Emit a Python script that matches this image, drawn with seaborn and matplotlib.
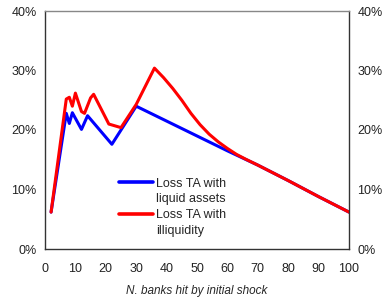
import numpy as np
import pandas as pd
import seaborn as sns
import matplotlib.pyplot as plt
from matplotlib.lines import Line2D
from matplotlib.ticker import PercentFormatter, MultipleLocator

# Data (breakpoints, % of total assets)
banks_liquid = [2, 7, 8, 9, 12, 14, 22, 30, 40, 50, 60, 70, 80, 90, 100]
loss_liquid = [6.2, 22.8, 21.1, 22.9, 20.1, 22.4, 17.6, 24.0, 21.5, 19.0, 16.5, 14.1, 11.5, 8.8, 6.2]

banks_illiquid = [2, 7, 8, 9, 10, 12, 13, 15, 16, 21, 25, 30, 36, 39, 42, 45, 48, 51, 54, 57, 60, 63, 66, 70, 80, 90, 100]
loss_illiquid = [6.2, 25.2, 25.5, 24.0, 26.2, 23.1, 22.8, 25.4, 26.0, 21.0, 20.4, 24.3, 30.4,
                 28.8, 27.0, 25.0, 22.8, 20.9, 19.3, 18.0, 16.9, 15.9, 15.1, 14.1, 11.5, 8.8, 6.2]

series_names = ["Loss TA with liquid assets", "Loss TA with illiquidity"]
legend_rows = ["Loss TA with", "liquid assets", "Loss TA with", "illiquidity"]
colors = ["#0000ff", "#ff0000"]

df = pd.concat([
    pd.DataFrame({"banks": banks_liquid, "loss": loss_liquid, "series": series_names[0]}),
    pd.DataFrame({"banks": banks_illiquid, "loss": loss_illiquid, "series": series_names[1]}),
])

sns.set_style("white")
plt.rcParams['font.family'] = ['Liberation Sans', 'DejaVu Sans']

fig, ax = plt.subplots(figsize=(3.84, 3.05), dpi=100)
fig.subplots_adjust(left=45/384, right=349/384, top=1-11/305, bottom=1-249/305)

sns.lineplot(data=df, x="banks", y="loss", hue="series", sort=False,
             palette=colors, linewidth=2.2, legend=False, ax=ax)

ax.set_xlim(0, 100)
ax.set_ylim(0, 40)
ax.xaxis.set_major_locator(MultipleLocator(10))
ax.xaxis.set_minor_locator(MultipleLocator(5))
ax.yaxis.set_major_locator(MultipleLocator(10))
ax.yaxis.set_major_formatter(PercentFormatter(decimals=0))
ax.tick_params(axis="x", which="both", direction="in", length=3, width=0.8, labelsize=9, pad=10, colors="#222222")
ax.tick_params(axis="y", length=0, labelsize=9, pad=6, colors="#222222", labelright=True)
ax.set_xlabel("N. banks hit by initial shock", fontsize=8.5, style="italic", labelpad=7)
ax.set_ylabel("")

for side in ["left", "bottom", "right"]:
    ax.spines[side].set_color("#333333")
    ax.spines[side].set_linewidth(1.0)
ax.spines["top"].set_color("#888888")
ax.spines["top"].set_linewidth(1.0)

# legend: handle sits beside the first line of each two-line label
blank = Line2D([], [], color="none")
handles = [Line2D([], [], color=colors[0], lw=2.6), blank,
           Line2D([], [], color=colors[1], lw=2.6), blank]
ax.legend(handles, legend_rows, loc="center left", bbox_to_anchor=(0.245, 0.175),
          frameon=False, fontsize=9, handlelength=2.7, handletextpad=0.2,
          labelspacing=0.3, borderaxespad=0, borderpad=0)

fig.savefig("out.png", dpi=100)
